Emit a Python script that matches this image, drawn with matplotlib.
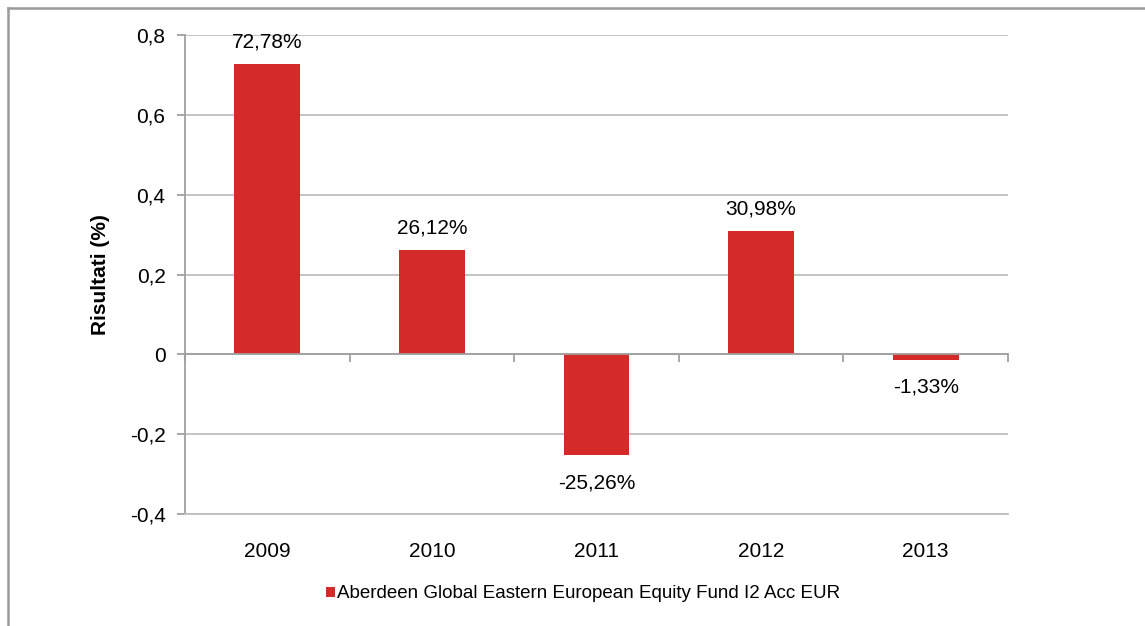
import matplotlib.pyplot as plt
from matplotlib.lines import Line2D
from matplotlib.patches import Patch
from matplotlib.ticker import FuncFormatter, MultipleLocator
import numpy as np

years = ['2009', '2010', '2011', '2012', '2013']
results = [0.7278, 0.2612, -0.2526, 0.3098, -0.0133]
series_name = 'Aberdeen Global Eastern European Equity Fund I2 Acc EUR'

plt.rcParams['font.family'] = ['Liberation Sans', 'DejaVu Sans']

bar_color = '#D42A2A'
grid_color = '#BEBEBE'
axis_color = '#A0A0A0'

fig = plt.figure(figsize=(11.45, 6.26), dpi=100)
ax = fig.add_axes([185 / 1145, 1 - 514 / 626, (1008 - 185) / 1145, (514 - 35) / 626])

x = np.arange(len(years))
ax.bar(x, results, width=0.4, color=bar_color, zorder=3)

# value labels
for xi, v in zip(x, results):
    txt = f'{v * 100:.2f}%'.replace('.', ',')
    if v >= 0:
        ax.annotate(txt, (xi, v), xytext=(0, 12), textcoords='offset points',
                    ha='center', va='baseline', fontsize=15)
    else:
        ax.annotate(txt, (xi, v), xytext=(0, -13), textcoords='offset points',
                    ha='center', va='top', fontsize=15)

ax.set_xlim(-0.5, len(years) - 0.5)
ax.set_ylim(-0.4, 0.8)
ax.yaxis.set_major_locator(MultipleLocator(0.2))
ax.yaxis.set_major_formatter(FuncFormatter(
    lambda v, p: '0' if abs(v) < 1e-9 else f'{v:.1f}'.replace('.', ',')))
ax.grid(axis='y', color=grid_color, linewidth=1.3, zorder=0)

# category labels at the bottom, boundary ticks on the zero line
ax.set_xticks(x)
ax.set_xticklabels(years)
ax.set_xticks(np.arange(len(years) + 1) - 0.5, minor=True)
ax.tick_params(axis='x', which='major', length=0, pad=20, labelsize=15)
ax.tick_params(axis='x', which='minor', top=True, bottom=False, direction='in',
               length=6, color=axis_color, width=1.3)
ax.spines['top'].set_position(('data', 0))
ax.spines['top'].set_color(axis_color)
ax.spines['top'].set_linewidth(1.3)
ax.spines['top'].set_zorder(4)
ax.spines['right'].set_visible(False)
ax.spines['bottom'].set_color(grid_color)
ax.spines['bottom'].set_linewidth(1.3)
ax.spines['left'].set_color(axis_color)
ax.spines['left'].set_linewidth(1.3)
ax.tick_params(axis='y', length=6, color=axis_color, width=1.3, labelsize=15, pad=8)

ax.set_ylabel('Risultati (%)', fontsize=15, fontweight='bold', labelpad=14)

handle = Patch(facecolor=bar_color, edgecolor='none')
fig.legend([handle], [series_name], loc='center', bbox_to_anchor=(583 / 1145, 1 - 594 / 626),
           frameon=False, fontsize=13.5, handlelength=0.48, handleheight=0.48,
           handletextpad=0.15)

# outer chart border (left and top)
fig.add_artist(Line2D([8 / 1145, 8 / 1145], [0, 1 - 8 / 626], color='#9A9A9A', linewidth=1.8))
fig.add_artist(Line2D([8 / 1145, 1], [1 - 8 / 626, 1 - 8 / 626], color='#9A9A9A', linewidth=1.8))

fig.savefig('out.png', dpi=100)
